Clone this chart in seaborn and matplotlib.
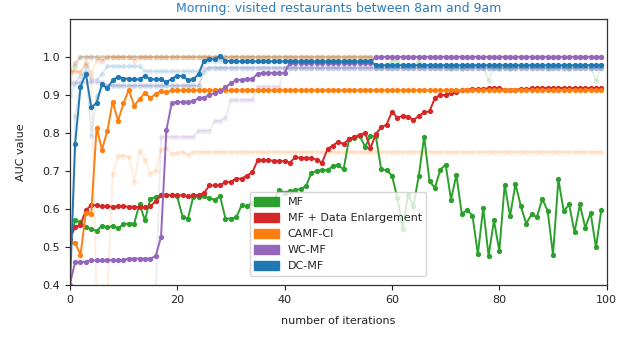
import numpy as np
import pandas as pd
import matplotlib
matplotlib.use("Agg")
import matplotlib.pyplot as plt
import matplotlib.patches as mpatches
import seaborn as sns

iterations = list(range(100))

methods = ["MF", "MF + Data Enlargement", "CAMF-CI", "WC-MF", "DC-MF"]
colors = ["#2ca02c", "#d62728", "#ff7f0e", "#9467bd", "#1f77b4"]

mf = [0.520, 0.570, 0.565, 0.553, 0.547, 0.543, 0.556, 0.552, 0.555, 0.549,
      0.560, 0.562, 0.562, 0.614, 0.570, 0.627, 0.631, 0.636, 0.636, 0.636,
      0.633, 0.580, 0.575, 0.632, 0.632, 0.633, 0.628, 0.625, 0.633, 0.575,
      0.575, 0.578, 0.610, 0.608, 0.616, 0.612, 0.620, 0.620, 0.622, 0.651,
      0.643, 0.648, 0.649, 0.653, 0.660, 0.695, 0.700, 0.703, 0.702, 0.713,
      0.716, 0.704, 0.784, 0.786, 0.792, 0.764, 0.791, 0.792, 0.704, 0.702,
      0.688, 0.630, 0.548, 0.638, 0.607, 0.688, 0.790, 0.673, 0.656, 0.703,
      0.717, 0.625, 0.690, 0.588, 0.597, 0.583, 0.481, 0.603, 0.477, 0.570,
      0.490, 0.664, 0.581, 0.666, 0.608, 0.562, 0.586, 0.579, 0.627, 0.595,
      0.480, 0.678, 0.594, 0.612, 0.539, 0.612, 0.551, 0.590, 0.499, 0.598]

mf_de = [0.520, 0.553, 0.559, 0.597, 0.610, 0.610, 0.607, 0.607, 0.606, 0.607,
         0.607, 0.606, 0.606, 0.605, 0.606, 0.607, 0.621, 0.636, 0.636, 0.637,
         0.636, 0.636, 0.634, 0.636, 0.637, 0.642, 0.662, 0.662, 0.664, 0.670,
         0.672, 0.680, 0.680, 0.688, 0.697, 0.728, 0.729, 0.728, 0.727, 0.726,
         0.726, 0.722, 0.736, 0.735, 0.733, 0.733, 0.730, 0.722, 0.758, 0.767,
         0.777, 0.771, 0.784, 0.790, 0.795, 0.800, 0.760, 0.797, 0.815, 0.822,
         0.856, 0.840, 0.845, 0.843, 0.834, 0.845, 0.854, 0.857, 0.892, 0.900,
         0.900, 0.905, 0.908, 0.913, 0.914, 0.915, 0.915, 0.916, 0.917, 0.918,
         0.918, 0.913, 0.914, 0.914, 0.915, 0.915, 0.917, 0.918, 0.918, 0.918,
         0.918, 0.918, 0.918, 0.918, 0.918, 0.918, 0.918, 0.918, 0.918, 0.918]

camf_ci = [0.513, 0.512, 0.480, 0.590, 0.588, 0.814, 0.756, 0.806, 0.882, 0.832,
           0.878, 0.913, 0.872, 0.889, 0.906, 0.892, 0.902, 0.911, 0.907, 0.912,
           0.912, 0.912, 0.912, 0.912, 0.912, 0.912, 0.912, 0.912, 0.912, 0.912,
           0.912, 0.912, 0.912, 0.912, 0.912, 0.912, 0.912, 0.912, 0.912, 0.912,
           0.912, 0.912, 0.912, 0.912, 0.912, 0.912, 0.912, 0.912, 0.912, 0.912,
           0.912, 0.912, 0.912, 0.912, 0.912, 0.912, 0.912, 0.912, 0.912, 0.912,
           0.912, 0.912, 0.912, 0.912, 0.912, 0.912, 0.912, 0.912, 0.912, 0.912,
           0.912, 0.912, 0.912, 0.912, 0.912, 0.912, 0.912, 0.912, 0.912, 0.912,
           0.912, 0.912, 0.912, 0.912, 0.912, 0.912, 0.912, 0.912, 0.912, 0.912,
           0.912, 0.912, 0.912, 0.912, 0.912, 0.912, 0.912, 0.912, 0.912, 0.912]

wc_mf = [0.400, 0.461, 0.461, 0.461, 0.465, 0.465, 0.465, 0.466, 0.466, 0.466,
         0.466, 0.470, 0.470, 0.470, 0.470, 0.470, 0.476, 0.527, 0.808, 0.879,
         0.881, 0.882, 0.882, 0.883, 0.892, 0.893, 0.900, 0.905, 0.911, 0.920,
         0.931, 0.939, 0.940, 0.942, 0.942, 0.956, 0.958, 0.958, 0.958, 0.958,
         0.958, 0.985, 0.985, 0.985, 0.985, 0.985, 0.985, 0.985, 0.985, 0.985,
         0.985, 0.985, 0.985, 0.985, 0.985, 0.985, 0.985, 1.000, 1.000, 1.000,
         1.000, 1.000, 1.000, 1.000, 1.000, 1.000, 1.000, 1.000, 1.000, 1.000,
         1.000, 1.000, 1.000, 1.000, 1.000, 1.000, 1.000, 1.000, 1.000, 1.000,
         1.000, 1.000, 1.000, 1.000, 1.000, 1.000, 1.000, 1.000, 1.000, 1.000,
         1.000, 1.000, 1.000, 1.000, 1.000, 1.000, 1.000, 1.000, 1.000, 1.000]

dc_mf = [0.380, 0.772, 0.921, 0.956, 0.867, 0.879, 0.928, 0.917, 0.939, 0.948,
         0.943, 0.943, 0.941, 0.941, 0.950, 0.941, 0.941, 0.941, 0.933, 0.943,
         0.950, 0.950, 0.939, 0.941, 0.955, 0.990, 0.994, 0.994, 1.003, 0.990,
         0.988, 0.988, 0.988, 0.988, 0.988, 0.988, 0.988, 0.988, 0.988, 0.988,
         0.988, 0.988, 0.988, 0.988, 0.988, 0.988, 0.988, 0.988, 0.988, 0.988,
         0.988, 0.988, 0.988, 0.988, 0.988, 0.988, 0.988, 0.978, 0.978, 0.978,
         0.978, 0.978, 0.978, 0.978, 0.978, 0.978, 0.978, 0.978, 0.978, 0.978,
         0.978, 0.978, 0.978, 0.978, 0.978, 0.978, 0.978, 0.978, 0.978, 0.978,
         0.978, 0.978, 0.978, 0.978, 0.978, 0.978, 0.978, 0.978, 0.978, 0.978,
         0.978, 0.978, 0.978, 0.978, 0.978, 0.978, 0.978, 0.978, 0.978, 0.978]

# faint background runs
faint_green = [0.930, 0.975, 1.000, 1.000, 1.000, 1.000, 1.000, 1.000, 1.000, 1.000,
               1.000, 1.000, 1.000, 1.000, 1.000, 1.000, 1.000, 1.000, 1.000, 1.000,
               1.000, 1.000, 1.000, 1.000, 1.000, 1.000, 1.000, 1.000, 1.000, 1.000,
               1.000, 1.000, 1.000, 1.000, 1.000, 1.000, 1.000, 1.000, 1.000, 1.000,
               1.000, 1.000, 1.000, 1.000, 1.000, 1.000, 1.000, 1.000, 1.000, 1.000,
               1.000, 1.000, 1.000, 1.000, 1.000, 1.000, 1.000, 0.975, 0.975, 0.975,
               0.990, 0.990, 0.975, 0.975, 0.975, 0.990, 0.975, 0.975, 0.975, 0.975,
               0.975, 0.968, 0.975, 0.968, 0.975, 0.975, 0.975, 0.975, 0.937, 0.975,
               0.968, 0.975, 0.968, 0.975, 0.975, 0.975, 0.975, 0.975, 0.975, 0.968,
               0.975, 0.975, 0.975, 0.968, 0.975, 0.975, 0.975, 0.975, 0.937, 0.975]
faint_red = [0.960, 0.985, 1.000, 1.000, 1.000, 1.000, 0.988, 1.000, 1.000, 1.000,
             1.000, 1.000, 1.000, 1.000, 1.000, 1.000, 1.000, 1.000, 1.000, 1.000,
             1.000, 1.000, 1.000, 1.000, 1.000, 1.000, 1.000, 1.000, 1.000, 1.000,
             1.000, 1.000, 1.000, 1.000, 1.000, 1.000, 1.000, 1.000, 1.000, 1.000,
             1.000, 1.000, 1.000, 1.000, 1.000, 1.000, 1.000, 1.000, 1.000, 1.000,
             1.000, 1.000, 1.000, 1.000, 1.000, 1.000, 1.000, 1.000, 1.000, 1.000,
             1.000, 1.000, 1.000, 1.000, 1.000, 1.000, 1.000, 1.000, 1.000, 1.000,
             1.000, 1.000, 1.000, 1.000, 1.000, 1.000, 1.000, 1.000, 1.000, 1.000,
             1.000, 1.000, 1.000, 1.000, 1.000, 1.000, 1.000, 1.000, 1.000, 1.000,
             1.000, 1.000, 1.000, 1.000, 1.000, 1.000, 1.000, 1.000, 1.000, 1.000]
faint_orange_top = [0.963, 0.962, 0.960, 0.985, 0.958, 0.990, 1.000, 1.000, 1.000, 1.000,
                    1.000, 1.000, 0.990, 1.000, 1.000, 1.000, 1.000, 1.000, 1.000, 1.000,
                    1.000, 1.000, 1.000, 1.000, 1.000, 1.000, 1.000, 1.000, 1.000, 1.000,
                    1.000, 1.000, 1.000, 1.000, 1.000, 1.000, 1.000, 1.000, 1.000, 1.000,
                    1.000, 1.000, 1.000, 1.000, 1.000, 1.000, 1.000, 1.000, 1.000, 1.000,
                    1.000, 1.000, 1.000, 1.000, 1.000, 1.000, 1.000, 1.000, 1.000, 1.000,
                    1.000, 1.000, 1.000, 1.000, 1.000, 1.000, 1.000, 1.000, 1.000, 1.000,
                    1.000, 1.000, 1.000, 1.000, 1.000, 1.000, 1.000, 1.000, 1.000, 1.000,
                    1.000, 1.000, 1.000, 1.000, 1.000, 1.000, 1.000, 1.000, 1.000, 1.000,
                    1.000, 1.000, 1.000, 1.000, 1.000, 1.000, 1.000, 1.000, 1.000, 1.000]
faint_orange_low = [0.963, 0.962, 0.960, 0.985, 0.950, 0.370, 0.370, 0.370, 0.693, 0.740,
                    0.740, 0.738, 0.671, 0.753, 0.730, 0.693, 0.700, 0.755, 0.760, 0.745,
                    0.748, 0.750, 0.742, 0.750, 0.750, 0.750, 0.750, 0.750, 0.750, 0.750,
                    0.750, 0.750, 0.750, 0.750, 0.750, 0.750, 0.750, 0.750, 0.750, 0.750,
                    0.750, 0.750, 0.750, 0.750, 0.750, 0.750, 0.750, 0.750, 0.750, 0.750,
                    0.750, 0.750, 0.750, 0.750, 0.750, 0.750, 0.750, 0.750, 0.750, 0.750,
                    0.750, 0.750, 0.750, 0.750, 0.750, 0.750, 0.750, 0.750, 0.750, 0.750,
                    0.750, 0.750, 0.750, 0.750, 0.750, 0.750, 0.750, 0.750, 0.750, 0.750,
                    0.750, 0.750, 0.750, 0.750, 0.750, 0.750, 0.750, 0.750, 0.750, 0.750,
                    0.750, 0.750, 0.750, 0.750, 0.750, 0.750, 0.750, 0.750, 0.750, 0.750]
faint_purple_a = [0.933, 0.933, 0.933, 0.933, 0.933, 0.933, 0.933, 0.925, 0.925, 0.925,
                  0.925, 0.925, 0.925, 0.925, 0.925, 0.925, 0.925, 0.925, 0.925, 0.925,
                  0.925, 0.925, 0.925, 0.925, 0.925, 0.970, 0.970, 0.970, 0.970, 0.970,
                  0.970, 0.970, 0.970, 0.970, 0.970, 0.970, 0.970, 0.970, 0.970, 0.970,
                  0.970, 0.970, 0.970, 0.970, 0.970, 0.970, 0.970, 0.970, 0.970, 0.970,
                  0.970, 0.970, 0.970, 0.970, 0.970, 0.970, 0.970, 0.970, 0.970, 0.970,
                  0.970, 0.970, 0.970, 0.970, 0.970, 0.970, 0.970, 0.970, 0.970, 0.970,
                  0.970, 0.970, 0.970, 0.970, 0.970, 0.970, 0.970, 0.970, 0.970, 0.970,
                  0.970, 0.970, 0.970, 0.970, 0.970, 0.970, 0.970, 0.970, 0.970, 0.970,
                  0.970, 0.970, 0.970, 0.970, 0.970, 0.970, 0.970, 0.970, 0.970, 0.970]
faint_purple_b = [0.370, 0.370, 0.370, 0.370, 0.370, 0.370, 0.370, 0.370, 0.370, 0.370,
                  0.370, 0.370, 0.370, 0.370, 0.370, 0.370, 0.370, 0.790, 0.790, 0.790,
                  0.790, 0.790, 0.790, 0.790, 0.806, 0.806, 0.806, 0.832, 0.832, 0.840,
                  0.887, 0.887, 0.887, 0.887, 0.887, 0.922, 0.922, 0.922, 0.922, 0.922,
                  0.972, 0.972, 0.972, 0.972, 0.972, 0.972, 0.972, 0.972, 0.972, 0.972,
                  0.972, 0.972, 0.972, 0.972, 0.972, 0.972, 0.972, 0.972, 0.972, 0.972,
                  0.972, 0.972, 0.972, 0.972, 0.972, 0.972, 0.972, 0.972, 0.972, 0.972,
                  0.972, 0.972, 0.972, 0.972, 0.972, 0.972, 0.972, 0.972, 0.972, 0.972,
                  0.972, 0.972, 0.972, 0.972, 0.972, 0.972, 0.972, 0.972, 0.972, 0.972,
                  0.972, 0.972, 0.972, 0.972, 0.972, 0.972, 0.972, 0.972, 0.972, 0.972]
faint_blue_a = [0.370, 0.845, 0.930, 0.976, 0.793, 0.898, 0.924, 0.924, 0.924, 0.924,
                0.924, 0.924, 0.924, 0.924, 0.924, 0.924, 0.924, 0.924, 0.924, 0.924,
                0.924, 0.924, 0.924, 0.924, 0.924, 0.960, 0.972, 0.972, 0.972, 0.972,
                0.972, 0.972, 0.972, 0.972, 0.972, 0.972, 0.972, 0.972, 0.972, 0.972,
                0.972, 0.972, 0.972, 0.972, 0.972, 0.972, 0.972, 0.972, 0.972, 0.972,
                0.972, 0.972, 0.972, 0.972, 0.972, 0.972, 0.972, 0.972, 0.972, 0.972,
                0.972, 0.972, 0.972, 0.972, 0.972, 0.972, 0.972, 0.972, 0.972, 0.972,
                0.972, 0.972, 0.972, 0.972, 0.972, 0.972, 0.972, 0.972, 0.972, 0.972,
                0.972, 0.972, 0.972, 0.972, 0.972, 0.972, 0.972, 0.972, 0.972, 0.972,
                0.972, 0.972, 0.972, 0.972, 0.972, 0.972, 0.972, 0.972, 0.972, 0.972]
faint_blue_b = [0.900, 0.930, 0.950, 0.960, 0.940, 0.940, 0.955, 0.975, 0.975, 0.975,
                0.975, 0.975, 0.975, 0.975, 0.962, 0.962, 0.962, 0.962, 0.962, 0.962,
                0.962, 0.962, 0.962, 0.962, 0.962, 0.990, 0.990, 0.990, 0.990, 0.990,
                0.990, 0.990, 0.990, 0.990, 0.990, 0.990, 0.990, 0.990, 0.990, 0.990,
                0.990, 0.990, 0.990, 0.990, 0.990, 0.990, 0.990, 0.990, 0.990, 0.990,
                0.990, 0.990, 0.990, 0.990, 0.990, 0.990, 0.990, 0.972, 0.972, 0.972,
                0.972, 0.972, 0.972, 0.972, 0.972, 0.972, 0.972, 0.972, 0.972, 0.972,
                0.972, 0.972, 0.972, 0.972, 0.972, 0.972, 0.972, 0.972, 0.972, 0.972,
                0.972, 0.972, 0.972, 0.972, 0.972, 0.972, 0.972, 0.972, 0.972, 0.972,
                0.972, 0.972, 0.972, 0.972, 0.972, 0.972, 0.972, 0.972, 0.972, 0.972]

x_ticks = [0, 20, 40, 60, 80, 100]
y_ticks = [0.4, 0.5, 0.6, 0.7, 0.8, 0.9, 1.0]

# ---- build tables ----
main_series = [mf, mf_de, camf_ci, wc_mf, dc_mf]
main_df = pd.concat([
    pd.DataFrame({"iteration": iterations, "auc": vals, "method": name})
    for name, vals in zip(methods, main_series)
], ignore_index=True)

faint_series = [
    ("MF", "g", faint_green), ("MF + Data Enlargement", "r", faint_red),
    ("CAMF-CI", "o1", faint_orange_top), ("CAMF-CI", "o2", faint_orange_low),
    ("WC-MF", "p1", faint_purple_a), ("WC-MF", "p2", faint_purple_b),
    ("DC-MF", "b1", faint_blue_a), ("DC-MF", "b2", faint_blue_b),
]
faint_df = pd.concat([
    pd.DataFrame({"iteration": iterations, "auc": vals, "method": name, "run": run})
    for name, run, vals in faint_series
], ignore_index=True)

palette = dict(zip(methods, colors))

sns.set_style("ticks")
plt.rcParams["font.family"] = ["DejaVu Sans"]

fig = plt.figure(figsize=(6.4, 3.49), dpi=100)
ax = fig.add_axes([0.109, 0.183, 0.839, 0.763])

sns.lineplot(data=faint_df, x="iteration", y="auc", hue="method", units="run",
             estimator=None, palette=palette, hue_order=methods, marker="o",
             markersize=4, markeredgewidth=0, linewidth=1.3, alpha=0.14,
             legend=False, ax=ax)
sns.lineplot(data=main_df, x="iteration", y="auc", hue="method", hue_order=methods,
             palette=palette, marker="o", markersize=3.8, markeredgewidth=0,
             linewidth=1.4, legend=False, ax=ax)

ax.set_xlim(0, 100)
ax.set_ylim(0.4, 1.1)
ax.set_xticks(x_ticks)
ax.set_yticks(y_ticks)
ax.set_yticklabels([f"{v:.1f}" for v in y_ticks])
ax.tick_params(labelsize=8, length=3.5, width=0.8, colors="#222222")
for s in ax.spines.values():
    s.set_color("#333333")
    s.set_linewidth(0.9)

ax.set_xlabel("number of iterations", fontsize=8, color="#222222", labelpad=8)
ax.set_ylabel("AUC value", fontsize=8, color="#222222", labelpad=12)
ax.set_title("Morning: visited restaurants between 8am and 9am", fontsize=9,
             color="#2b7bba", pad=5)

handles = [mpatches.Patch(color=c, label=m) for m, c in zip(methods, colors)]
ax.legend(handles=handles, loc="lower center", bbox_to_anchor=(0.5, 0.015),
          fontsize=8, framealpha=0.8, handlelength=2.2, handleheight=0.9)

fig.savefig("out.png", dpi=100)
